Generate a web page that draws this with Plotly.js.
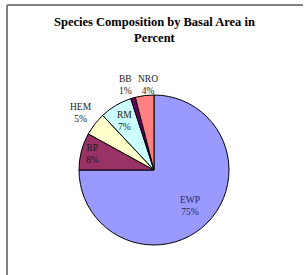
<!DOCTYPE html>
<html><head><meta charset="utf-8">
<script src="https://cdn.plot.ly/plotly-3.0.1.min.js"></script>
<style>html,body{margin:0;padding:0;background:#fff;}#c{width:308px;height:275px;}</style>
</head><body><div id="c"></div>
<script>
const species = ["EWP", "RP", "HEM", "RM", "BB", "NRO"];
const percent = [75, 8, 5, 7, 1, 4];
const colors = ["#9999FF", "#993366", "#FFFFCC", "#CCFFFF", "#660066", "#FF8080"];
// label placement: radial distance (fraction of radius) and angular nudge (degrees)
const labelRadius = [0.68, 0.84, 1.23, 0.76, 1.2, 1.14];
const labelNudge = [0, 0, 0, 0, -2, 3];

const W = 308, H = 275;
const cx = 154, cy = 170, R = 75;
const FONT = "Liberation Serif, Times New Roman, serif";

const trace = {
  type: "pie",
  labels: species,
  values: percent,
  sort: false,
  direction: "clockwise",
  rotation: 0,
  marker: {colors: colors, line: {color: "#000", width: 1}},
  textinfo: "none",
  domain: {x: [(cx - R) / W, (cx + R) / W], y: [(H - cy - R) / H, (H - cy + R) / H]},
  showlegend: false,
  hoverinfo: "none"
};

const total = percent.reduce((a, b) => a + b, 0);
let cum = 0;
const annotations = species.map((s, i) => {
  const mid = (cum + percent[i] / 2) / total * 2 * Math.PI + labelNudge[i] * Math.PI / 180;
  cum += percent[i];
  const px = cx + labelRadius[i] * R * Math.sin(mid);
  const py = cy - labelRadius[i] * R * Math.cos(mid);
  return {
    xref: "paper", yref: "paper", x: px / W, y: 1 - py / H,
    xanchor: "center", yanchor: "middle", showarrow: false, align: "center",
    text: s + "<br>" + percent[i] + "%",
    font: {family: FONT, size: 9.5, color: i === 0 ? "#2a2a55" : "#1a1a1a"}
  };
});
annotations.push({
  xref: "paper", yref: "paper", x: 154 / W, y: 1 - 29.5 / H,
  xanchor: "center", yanchor: "middle", showarrow: false,
  text: "<b>Species Composition by Basal Area in<br>Percent</b>",
  font: {family: FONT, size: 12.5, color: "#000"}
});

const layout = {
  width: W, height: H,
  margin: {l: 0, r: 0, t: 0, b: 0},
  paper_bgcolor: "#fff",
  annotations: annotations,
  shapes: [
    {type: "line", xref: "paper", yref: "paper", x0: 7 / W, x1: 303 / W, y0: 1 - 5 / H, y1: 1 - 5 / H, line: {color: "#808080", width: 2}},
    {type: "line", xref: "paper", yref: "paper", x0: 7 / W, x1: 7 / W, y0: 1 - 5 / H, y1: 0, line: {color: "#808080", width: 2}}
  ]
};

Plotly.newPlot("c", [trace], layout, {staticPlot: true, displayModeBar: false});
</script></body></html>
